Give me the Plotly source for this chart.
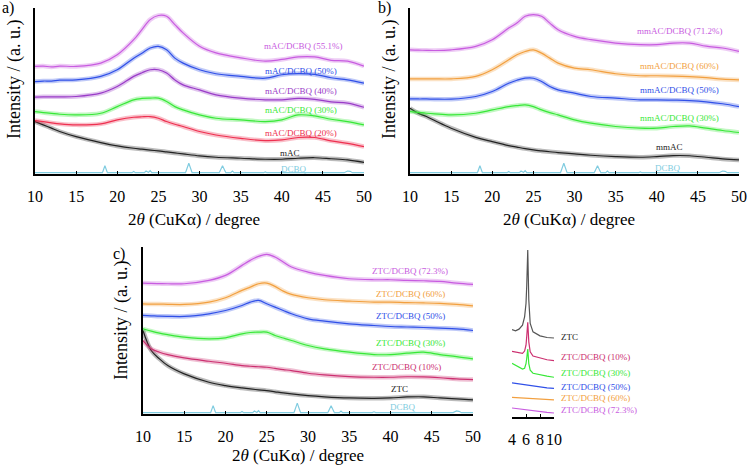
import plotly.graph_objects as go

# ---------------- data (arbitrary intensity units) ----------------
X = [10, 11, 12, 13, 15, 18, 20, 22, 23, 24, 25, 26, 27, 28, 30, 32, 35, 38, 40, 42, 44, 46, 48, 50]

# panel a
a_551 = [64.8, 65, 64.5, 65, 64.8, 66.8, 71.8, 80.9, 87, 93, 95.5, 95, 90, 85, 77, 73, 70, 68, 69, 70.5, 70.5, 68.5, 68, 65]
a_50 = [55.7, 56, 56, 56.5, 56.7, 58.8, 62.8, 69.8, 72.8, 75.9, 76.9, 74.8, 69.8, 66.8, 62.8, 60.4, 58.8, 57.7, 59.8, 60.5, 60, 58, 56.7, 54.7]
a_40 = [46.3, 46.5, 46.5, 46.5, 46.7, 48.7, 52.7, 58.8, 61, 62.8, 62.8, 60.8, 56.7, 53.7, 50.7, 47.7, 45.7, 44.7, 44.7, 45.5, 45, 43.5, 42.7, 40.2]
a_30 = [37.6, 37, 36.5, 36, 35.6, 36.6, 40.6, 44.7, 45.5, 45.7, 45.7, 43.7, 40.6, 38.6, 35.6, 33.6, 32.6, 31.6, 32.6, 35.6, 35, 33, 31.6, 29.6]
a_20 = [32.2, 31.5, 30.8, 30.2, 29.6, 30.2, 32.6, 34.2, 34.5, 34.6, 33.6, 31.6, 30, 28.6, 25.6, 23.5, 21.5, 20.1, 20.5, 22, 22, 20, 18.5, 16.5]
a_mAC = [31.6, 29.6, 27.6, 25.6, 22.5, 18.9, 16.9, 15.5, 15, 14.4, 13.9, 13.3, 12.7, 12.1, 10.9, 10.1, 9.5, 8.9, 8.9, 9.5, 9.8, 9.2, 8.5, 7]

# panel b
b_712 = [74.8, 74.6, 74.5, 74.4, 74.8, 76.9, 80.9, 87.9, 90.9, 95, 96, 95, 90.9, 86.9, 82.9, 80.9, 78.9, 77.9, 77.9, 78.9, 78.9, 77, 75.9, 73.8]
b_60 = [57.3, 57.3, 57.3, 57.3, 57.3, 58.8, 62.8, 68.8, 71.8, 73.8, 74.8, 72.8, 69.8, 66.8, 63.8, 62.8, 60.4, 59.2, 59.2, 59, 58.6, 58, 57.1, 56.7]
b_50 = [45.3, 45.2, 45.2, 45.1, 45.1, 46.7, 49.7, 54.7, 56.5, 57.7, 57.7, 55.7, 52.7, 50.7, 48.7, 46.7, 45.7, 44.7, 44.7, 44.5, 44.2, 43.5, 42.3, 40.6]
b_30 = [37.6, 37.1, 36.6, 36.2, 35.6, 36.6, 38.6, 40.6, 41.2, 41.6, 40.6, 38.6, 37, 35.6, 32.6, 30.6, 28.6, 27.6, 27.6, 28.6, 29, 27.6, 26.2, 25]
b_mmAC = [39.6, 36.6, 34.6, 32.2, 27.6, 22.1, 19.5, 17.1, 16.2, 15.3, 14.5, 13.9, 13.4, 12.9, 12.1, 11.3, 10.5, 10.1, 10.5, 11.1, 11, 10.1, 9.1, 8.5]

# panel c
c_723 = [78.4, 78.2, 78.1, 78, 78, 80, 83, 89, 92, 94.4, 95.6, 94, 91, 88, 85, 83, 81, 80.4, 80.4, 80, 79.8, 79.4, 78.4, 77.6]
c_60 = [66, 65.8, 65.8, 65.7, 65.6, 67, 69.6, 74, 76, 78, 78.4, 76.4, 73.6, 71.6, 69.6, 68.4, 67.6, 67, 67, 66.7, 66.5, 66.2, 65.6, 64.8]
c_50 = [59, 58.8, 58.6, 58.5, 58.4, 60, 62, 65, 67, 68, 66, 64, 62, 60, 57, 55.6, 54, 53, 52.4, 52.1, 51.8, 51.4, 51, 50]
c_30 = [51, 49.6, 48.4, 47.5, 46, 45, 45.6, 48, 48.8, 49, 49, 47, 45.5, 44, 41, 39, 37, 35.6, 35.6, 36.4, 37, 35.6, 34.4, 33]
c_10 = [44, 39, 37, 35.6, 33.6, 31.6, 30.4, 29, 28.6, 28.3, 28, 27.3, 26.6, 26, 24.4, 23.4, 22.4, 22, 22, 22.3, 22.2, 21.7, 21, 20.6]
c_ZTC = [50, 38, 33, 29, 24, 19, 17, 15.6, 15, 14.5, 14, 13.3, 12.6, 12, 11, 10.3, 9.6, 9.4, 9.6, 10.2, 10.3, 9.6, 9, 8.4]

# DCBQ reference pattern (sharp peaks)
DCBQ_X = [10, 18.2, 18.5, 18.8, 21.8, 22.0, 22.2, 23.3, 23.5, 23.7, 23.8, 24.0, 24.2, 28.3, 28.7, 29.1,
          32.4, 32.8, 33.2, 33.8, 34.0, 34.2, 37.3, 37.5, 37.7, 37.8, 38.0, 38.2, 47.6, 48.0, 48.3, 48.6, 50]
DCBQ_Y = [0.8, 0.8, 5.0, 0.8, 0.8, 1.5, 0.8, 0.8, 1.8, 0.9, 0.9, 2.0, 0.8, 0.8, 6.5, 0.8,
          0.8, 5.0, 0.8, 0.8, 1.8, 0.8, 0.8, 1.2, 0.8, 0.8, 1.3, 0.8, 0.8, 1.8, 1.6, 0.8, 0.8]

# inset (low angle)
XI = [4, 4.5, 5, 5.5, 5.8, 6.0, 6.1, 6.25, 6.4, 6.6, 7, 8, 9, 10]
i_ZTC = [52.3, 51.6, 52.6, 55, 60, 68, 78, 100, 70, 56, 51, 48.6, 47.6, 47.3]
i_10 = [39.3, 38.8, 38.2, 38.1, 39.5, 43, 48, 56.7, 45, 39, 36.5, 35.2, 34.3, 33.7]
i_30 = [32.1, 30.8, 29.6, 28.7, 29.2, 32, 35, 40.7, 32, 28, 26.2, 25.2, 24.5, 23.8]
i_50 = [20.4, 20.1, 19.8, 19.5, 19.3, 19.1, 19, 18.9, 18.8, 18.6, 18.3, 17.9, 17.5, 17.2]
i_60 = [11.8, 11.7, 11.5, 11.4, 11.3, 11.2, 11.2, 11.1, 11.1, 11, 10.9, 10.6, 10.4, 10.2]
i_723 = [5.4, 5.1, 4.9, 4.7, 4.5, 4.4, 4.3, 4.2, 4.1, 4, 3.8, 3.2, 2.8, 2.4]

XTICKS = [10, 15, 20, 25, 30, 35, 40, 45, 50]
ITICKS = [4, 6, 8, 10]

# ---------------- styling ----------------
MAG = "#c85ce0"
PUR = "#9a3cc8"
BLU = "#3050e8"
GRN = "#38e838"
RED = "#ee3050"
ORA = "#f2a040"
CRI = "#cc3070"
BLK = "#222222"
CYA = "#80cce0"
SERIF = "Liberation Serif, Times New Roman, Times, serif"

fig = go.Figure()


def add(x, y, color, ax, band=True):
    xa = "x" if ax == 1 else "x%d" % ax
    ya = "y" if ax == 1 else "y%d" % ax
    if band:
        fig.add_trace(go.Scatter(x=x, y=y, mode="lines", xaxis=xa, yaxis=ya,
                                 line=dict(color=color, width=4.5, shape="spline"),
                                 opacity=0.3, hoverinfo="skip", showlegend=False))
    fig.add_trace(go.Scatter(x=x, y=y, mode="lines", xaxis=xa, yaxis=ya,
                             line=dict(color=color, width=1.2, shape="spline" if band else "linear"),
                             showlegend=False))


# panel a
add(DCBQ_X, DCBQ_Y, CYA, 1, band=False)
add(X, a_mAC, BLK, 1)
add(X, a_20, RED, 1)
add(X, a_30, GRN, 1)
add(X, a_40, PUR, 1)
add(X, a_50, BLU, 1)
add(X, a_551, MAG, 1)
# panel b
add(DCBQ_X, DCBQ_Y, CYA, 2, band=False)
add(X, b_mmAC, BLK, 2)
add(X, b_30, GRN, 2)
add(X, b_50, BLU, 2)
add(X, b_60, ORA, 2)
add(X, b_712, MAG, 2)
# panel c
add(DCBQ_X, DCBQ_Y, CYA, 3, band=False)
add(X, c_ZTC, BLK, 3)
add(X, c_10, CRI, 3)
add(X, c_30, GRN, 3)
add(X, c_50, BLU, 3)
add(X, c_60, ORA, 3)
add(X, c_723, MAG, 3)
# inset
add(XI, i_723, MAG, 4, band=False)
add(XI, i_60, ORA, 4, band=False)
add(XI, i_50, BLU, 4, band=False)
add(XI, i_30, GRN, 4, band=False)
add(XI, i_10, CRI, 4, band=False)
add(XI, i_ZTC, "#555555", 4, band=False)

W, H = 750, 468


def dx(p0, p1):
    return [p0 / W, p1 / W]


def dy(top, bottom):
    return [1 - bottom / H, 1 - top / H]


tickfont = dict(family=SERIF, size=16, color="black")
xcommon = dict(showline=True, linecolor="black", linewidth=1.5, ticks="inside", ticklen=3,
               tickcolor="black", tickfont=tickfont, showgrid=False, zeroline=False,
               range=[10, 50], tickvals=XTICKS, tickangle=0, ticklabelstandoff=7)
ycommon = dict(showline=True, linecolor="black", linewidth=1.5, showticklabels=False,
               ticks="", showgrid=False, zeroline=False, range=[0, 100])

fig.update_layout(
    width=W, height=H, margin=dict(l=0, r=0, t=0, b=0, autoexpand=False),
    font=dict(family=SERIF, color="black"),
    paper_bgcolor="white", plot_bgcolor="white", showlegend=False,
    xaxis=dict(domain=dx(35, 364), anchor="y", **xcommon),
    yaxis=dict(domain=dy(8, 174), anchor="x", **ycommon),
    xaxis2=dict(domain=dx(410, 739), anchor="y2", **xcommon),
    yaxis2=dict(domain=dy(8, 174), anchor="x2", **ycommon),
    xaxis3=dict(domain=dx(143, 473), anchor="y3", **xcommon),
    yaxis3=dict(domain=dy(247, 414), anchor="x3", **ycommon),
    xaxis4=dict(domain=dx(512, 554), anchor="y4", showline=True, linecolor="black", linewidth=1.5,
                ticks="inside", ticklen=3, tickcolor="black", tickfont=tickfont, showgrid=False,
                zeroline=False, range=[4, 10], tickvals=ITICKS, tickangle=0, ticklabelstandoff=7),
    yaxis4=dict(domain=dy(250, 417), anchor="x4", visible=False, range=[0, 100]),
)

ann = []


def lab(text, x, y, color, ax):
    xr = "x" if ax == 1 else "x%d" % ax
    yr = "y" if ax == 1 else "y%d" % ax
    ann.append(dict(text=text, x=x, y=y, xref=xr, yref=yr, showarrow=False,
                    font=dict(family=SERIF, size=9, color=color), xanchor="center", yanchor="middle"))


lab("mAC/DCBQ (55.1%)", 42.7, 76.9, MAG, 1)
lab("mAC/DCBQ (50%)", 42.3, 61.8, BLU, 1)
lab("mAC/DCBQ (40%)", 42.3, 50.3, PUR, 1)
lab("mAC/DCBQ (30%)", 42.3, 38.6, GRN, 1)
lab("mAC/DCBQ (20%)", 42.3, 25.0, RED, 1)
lab("mAC", 41.0, 12.5, BLK, 1)
lab("DCBQ", 41.5, 3.0, CYA, 1)

lab("mmAC/DCBQ (71.2%)", 42.8, 85.9, MAG, 2)
lab("mmAC/DCBQ (60%)", 42.8, 64.8, ORA, 2)
lab("mmAC/DCBQ (50%)", 42.8, 50.7, BLU, 2)
lab("mmAC/DCBQ (30%)", 42.8, 33.6, GRN, 2)
lab("mmAC", 41.6, 16.5, BLK, 2)
lab("DCBQ", 41.4, 3.4, CYA, 2)

lab("ZTC/DCBQ (72.3%)", 42.4, 85.6, MAG, 3)
lab("ZTC/DCBQ (60%)", 42.4, 71.6, ORA, 3)
lab("ZTC/DCBQ (50%)", 42.4, 58.4, BLU, 3)
lab("ZTC/DCBQ (30%)", 42.4, 42.4, GRN, 3)
lab("ZTC/DCBQ (10%)", 41.9, 28.4, CRI, 3)
lab("ZTC", 41.1, 15.0, BLK, 3)
lab("DCBQ", 41.5, 4.0, CYA, 3)

# inset labels (left aligned to the right of the inset)
for t, yv, c in [("ZTC", 48.1, BLK), ("ZTC/DCBQ (10%)", 36.1, CRI), ("ZTC/DCBQ (30%)", 26.1, GRN),
                 ("ZTC/DCBQ (50%)", 18.2, BLU), ("ZTC/DCBQ (60%)", 11.4, ORA), ("ZTC/DCBQ (72.3%)", 4.2, MAG)]:
    ann.append(dict(text=t, x=559 / W, y=yv, xref="paper", yref="y4", showarrow=False,
                    font=dict(family=SERIF, size=9, color=c), xanchor="left", yanchor="middle"))


# axis titles and panel letters (paper coordinates from pixel positions)
def pp(text, px, py, size, angle=0, xanchor="center"):
    ann.append(dict(text=text, x=px / W, y=1 - py / H, xref="paper", yref="paper", showarrow=False,
                    textangle=angle, xanchor=xanchor, yanchor="middle",
                    font=dict(family=SERIF, size=size, color="black")))


XT = "2<i>θ</i> (CuKα) / degree"
pp(XT, 194, 219, 17)
pp(XT, 569, 219, 17)
pp(XT, 298, 455, 17)
YT = "Intensity / (a. u.)"
pp(YT, 14, 80, 18, -90)
pp(YT, 389, 80, 18, -90)
pp(YT, 121, 321, 18, -90)
pp("a)", 0, 8, 16, xanchor="left")
pp("b)", 376, 8, 16, xanchor="left")
pp("c)", 111, 254, 16, xanchor="left")

fig.update_layout(annotations=ann)
fig.write_html("out.html", config={"displayModeBar": False},
               post_script="document.body.style.margin='0px';document.body.style.overflow='hidden';")
